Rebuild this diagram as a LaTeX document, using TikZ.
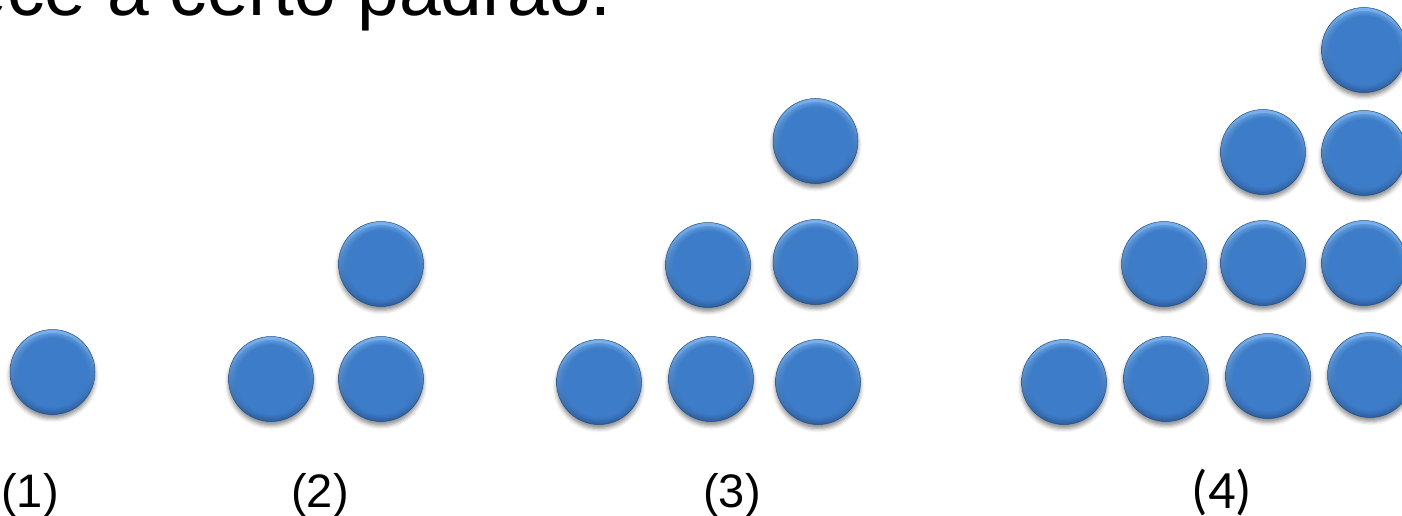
\documentclass[tikz,border=0pt]{standalone}
\usepackage{fontspec}
\usetikzlibrary{shadows.blur,fadings}
\newfontfamily\arialfont{Liberation Sans}
\newfontfamily\calibrifont{Carlito}
\definecolor{ballblue}{RGB}{61,124,200}
\definecolor{balltop}{RGB}{120,178,238}
\definecolor{ballbot}{RGB}{40,88,150}
\definecolor{ballline}{RGB}{36,78,135}
\tikzset{
  ball/.style={circle, minimum size=85pt, inner sep=0pt,
    draw=ballline, line width=0.5pt,
    top color=balltop, bottom color=ballbot,
    blur shadow={shadow xshift=0pt, shadow yshift=-4pt, shadow blur radius=4pt, shadow opacity=45},
    path picture={\fill[ballblue, path fading=circle with fuzzy edge 20 percent]
      ([yshift=-2pt]path picture bounding box.center) circle (41pt);}},
  arlabel/.style={anchor=base, inner sep=0pt, font=\arialfont\fontsize{47}{50}\selectfont},
  calabel/.style={anchor=base, inner sep=0pt, font=\calibrifont\fontsize{54}{58}\selectfont},
  titletext/.style={anchor=base east, inner sep=0pt, font=\arialfont\fontsize{75}{80}\selectfont}
}
\begin{document}
\begin{tikzpicture}[x=1pt, y=-1pt]
\useasboundingbox (0,0) rectangle (1402,516);
\clip (0,0) rectangle (1402,516);
\node[titletext] (t) at (612,16) {ece a certo padrão.};
% figure 1
\node[ball] (a1) at (52.5,372) {};
% figure 2
\node[ball] (b1) at (271,379) {};
\node[ball] (b2) at (381,379) {};
\node[ball] (b3) at (381,264) {};
% figure 3
\node[ball] (c1) at (599,382) {};
\node[ball] (c2) at (711,379) {};
\node[ball] (c3) at (818,382) {};
\node[ball] (c4) at (708,265) {};
\node[ball] (c5) at (815.5,262) {};
\node[ball] (c6) at (815.5,141) {};
% figure 4
\node[ball] (d1) at (1064,382) {};
\node[ball] (d2) at (1166,379) {};
\node[ball] (d3) at (1268,376) {};
\node[ball] (d4) at (1370,375) {};
\node[ball] (d5) at (1164,264) {};
\node[ball] (d6) at (1263,263) {};
\node[ball] (d7) at (1364,263) {};
\node[ball] (d8) at (1263,152) {};
\node[ball] (d9) at (1364,153) {};
\node[ball] (d10) at (1364,50) {};
% labels
\node[arlabel] (l1) at (30,507) {(1)};
\node[arlabel] (l2) at (320,507) {(2)};
\node[arlabel] (l3) at (732,507) {(3)};
\node[calabel] (l4) at (1222,508) {(4)};
\end{tikzpicture}
\end{document}
